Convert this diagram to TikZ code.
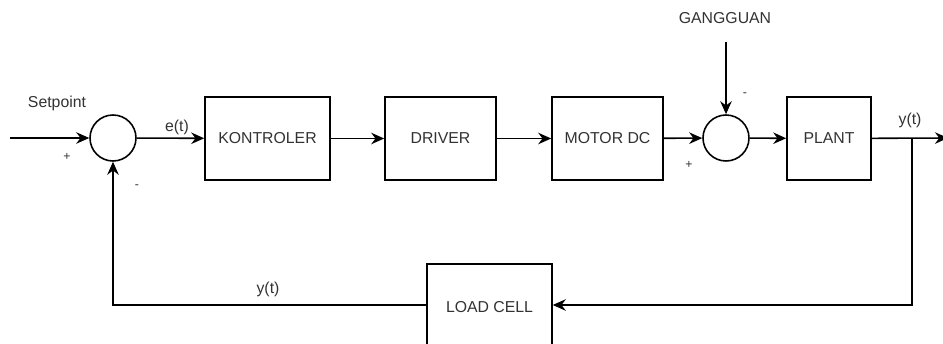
\documentclass[tikz,border=0pt]{standalone}
\usepackage{fontspec}
\setmainfont{Liberation Sans}
\usepackage{tikz}
\usetikzlibrary{arrows.meta,positioning,calc}
\definecolor{textgray}{RGB}{50,50,50}

\tikzset{
  blockbox/.style={draw, line width=0.9pt, minimum height=1.66cm, inner sep=0pt,
    font=\fontsize{9pt}{10pt}\selectfont, text=textgray},
  sumnode/.style={draw, circle, line width=0.9pt, minimum size=0.92cm, inner sep=0pt},
  lbl/.style={font=\fontsize{9pt}{10pt}\selectfont, text=textgray},
  sgn/.style={font=\fontsize{7pt}{8pt}\selectfont, text=textgray},
  sig/.style={-{Stealth[length=2.6mm,width=2.3mm]}, line width=0.9pt}
}

\begin{document}
\begin{tikzpicture}[x=0.02cm, y=-0.02cm]
    \useasboundingbox (0,0) rectangle (943,344);
    % Forward path
    \coordinate (in) at (10,138);
    \node[sumnode] (sum1) at (113,138) {};
    \node[blockbox, minimum width=2.5cm] (kontroler) at (267.5,138.5) {KONTROLER};
    \node[blockbox, minimum width=2.22cm] (driver) at (440.5,138.5) {DRIVER};
    \node[blockbox, minimum width=2.22cm] (motor) at (607.5,138.5) {MOTOR DC};
    \node[sumnode] (sum2) at (726,138) {};
    \node[blockbox, minimum width=1.68cm] (plant) at (829,138.5) {PLANT};
    \coordinate (branch) at (912,138);
    \coordinate (out) at (948,138);
    % Feedback
    \node[blockbox, minimum width=2.5cm, minimum height=1.72cm] (loadcell) at (489.5,307) {LOAD CELL};
    \coordinate (down) at (912,305);
    \coordinate (left) at (113,305);
    % Disturbance
    \node[lbl] (gangguan) at (725,18) {GANGGUAN};
    \coordinate (dist) at (726,42);
    % Signals
    \draw[sig] (in) -- (sum1);
    \draw[sig] (sum1) -- (kontroler);
    \draw[sig] (kontroler) -- (driver);
    \draw[sig] (driver) -- (motor);
    \draw[sig] (motor) -- (sum2);
    \draw[sig] (sum2) -- (plant);
    \draw[sig] (plant) -- (out);
    \draw[sig] (dist) -- (sum2);
    \draw[sig] (branch) -- (down) -- (loadcell.east |- down);
    \draw[sig] (loadcell.west |- left) -- (left) -- (sum1);
    % Labels
    \node[lbl] at (57,103) {Setpoint};
    \node[lbl] at (177,127) {e(t)};
    \node[lbl] at (910,120) {y(t)};
    \node[lbl] at (268,289) {y(t)};
    \node[sgn] at (67,157) {+};
    \node[sgn] at (137,187) {-};
    \node[sgn] at (689,165) {+};
    \node[sgn] at (745,95) {-};
\end{tikzpicture}
\end{document}
